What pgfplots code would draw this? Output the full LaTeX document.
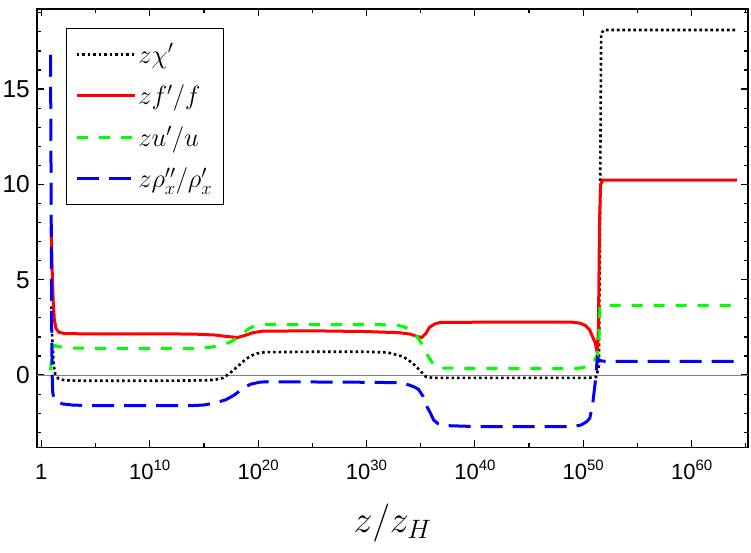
\RequirePackage{fix-cm}
\documentclass[border=0pt]{standalone}
\usepackage{fontspec}
\setmainfont{Liberation Sans}
\usepackage{pgfplots}
\pgfplotsset{compat=1.18}
\newcommand{\tl}[1]{10\raisebox{0.45em}{\fontsize{15}{15}\selectfont #1}}
\begin{document}
\begin{tikzpicture}
\begin{axis}[
  name=ax,
  scale only axis, width=711pt, height=438.5pt,
  xmin=-0.4, xmax=65.2, ymin=-3.8, ymax=19.2,
  xtick={0,10,20,30,40,50,60},
  xticklabels={1,\tl{10},\tl{20},\tl{30},\tl{40},\tl{50},\tl{60}},
  minor xtick={5,15,25,35,45,55,65},
  ytick={0,5,10,15},
  yticklabels={0,5,10,15},
  minor ytick={-3,-2,-1,1,2,3,4,6,7,8,9,11,12,13,14,16,17,18,19},
  tick align=inside, major tick length=7pt, minor tick length=4pt,
  axis line style={line width=1.5pt},
  every tick/.style={black, line width=1.2pt},
  xticklabel style={font=\fontsize{22}{22}\selectfont, anchor=base, inner sep=0pt, yshift=-32.5pt},
  yticklabel style={font=\fontsize{24.5}{24.5}\selectfont, anchor=east, inner sep=0pt, xshift=-7pt},
  xlabel={$z/z_H$},
  xlabel style={font=\fontsize{38}{38}\selectfont, at={(axis description cs:0.5,0)}, anchor=base, yshift=-85.5pt},
  legend image code/.code={\draw[#1] (0pt,0pt) -- (50pt,0pt); \path (0pt,0pt) -- (58pt,0pt);},
  legend cell align=left,
  legend style={at={(0.0404,0.957)}, anchor=north west, draw=black, line width=1.3pt,
    font=\fontsize{26.5}{30}\selectfont, inner xsep=9pt, inner ysep=13pt, row sep=16pt},
]
\addplot[gray, line width=0.8pt, forget plot] coordinates {(-0.4,0) (65.2,0)};
% z chi'
\addplot[black, line width=2.6pt, dash pattern=on 2.6pt off 2.9pt] coordinates {
(0.9,3.6) (1.0,2.0) (1.15,0.5) (1.3,0.0) (1.6,-0.2) (2.2,-0.28) (4,-0.3) (10,-0.3) (15,-0.28) (16,-0.25) (16.8,-0.15) (17.4,0.1) (17.8,0.3) (18.4,0.6) (18.8,0.8) (19.3,1.0) (19.9,1.13) (20.6,1.2) (25,1.22) (30,1.22) (32,1.18) (33.4,0.96) (34.2,0.65) (34.9,0.26) (35.5,-0.1) (36.2,-0.15) (40,-0.15) (50.5,-0.15) (51.2,-0.1) (51.45,0.5) (51.55,9) (51.65,17.9) (51.9,18.1) (64.2,18.1)};
\addlegendentry{$z\chi'$}
% z f'/f
\addplot[red, line width=3pt] coordinates {
(0.9,7.8) (1.0,5.5) (1.1,3.8) (1.2,2.9) (1.35,2.45) (1.6,2.25) (2.2,2.17) (5,2.16) (10,2.16) (14,2.15) (16,2.1) (17,2.03) (18.1,1.97) (18.8,2.08) (19.5,2.22) (20.4,2.3) (25,2.32) (30,2.28) (33,2.22) (34,2.15) (34.7,2.02) (35.1,1.97) (35.5,2.2) (35.8,2.5) (36.3,2.68) (36.8,2.76) (40,2.77) (49,2.77) (49.7,2.72) (50.2,2.6) (50.6,2.36) (50.9,1.95) (51.1,1.7) (51.3,1.15) (51.4,2.5) (51.5,8) (51.6,10.0) (51.8,10.22) (64.2,10.22)};
\addlegendentry{$zf'/f$}
% z u'/u
\addplot[green, line width=3pt, dash pattern=on 11pt off 11pt] coordinates {
(0.85,0.25) (0.95,0.9) (1.05,1.4) (1.2,1.55) (1.5,1.5) (2.5,1.42) (5,1.4) (14,1.4) (15.5,1.45) (16.5,1.55) (17.3,1.7) (17.8,1.85) (18.5,2.15) (19.2,2.45) (19.8,2.6) (20.4,2.65) (30,2.65) (32.5,2.63) (33.4,2.55) (34.2,2.3) (34.9,1.83) (35.4,1.3) (35.8,0.87) (36.2,0.55) (36.6,0.4) (37.2,0.36) (40,0.35) (49.5,0.35) (50.2,0.42) (50.9,0.63) (51.3,1.05) (51.45,2.0) (51.55,3.65) (64.2,3.65)};
\addlegendentry{$zu'/u$}
% z rho''/rho'
\addplot[blue, line width=3pt, dash pattern=on 22pt off 10pt] coordinates {
(0.85,16.8) (0.9,10) (0.95,3) (1.0,0) (1.05,-0.9) (1.15,-1.2) (1.4,-1.4) (2,-1.52) (3,-1.58) (5,-1.6) (14,-1.6) (15,-1.57) (16,-1.47) (17,-1.3) (17.8,-1.05) (18.6,-0.7) (19.3,-0.48) (20.2,-0.37) (21,-0.35) (30,-0.38) (33,-0.4) (33.8,-0.5) (34.4,-0.62) (34.8,-0.75) (35.2,-1.1) (35.5,-1.57) (35.9,-2.0) (36.2,-2.36) (36.6,-2.55) (37.2,-2.65) (40,-2.7) (49,-2.7) (49.8,-2.62) (50.3,-2.45) (50.6,-2.27) (50.85,-1.6) (51.1,-0.42) (51.3,0.9) (51.45,0.82) (51.6,0.75) (52,0.72) (64.2,0.72)};
\addlegendentry{$z\rho''_x/\rho'_x$}
\end{axis}
\pgfresetboundingbox
\path[use as bounding box] ([xshift=-37pt,yshift=-105.5pt]ax.south west) rectangle ([xshift=3pt,yshift=9pt]ax.north east);
\end{tikzpicture}
\end{document}
